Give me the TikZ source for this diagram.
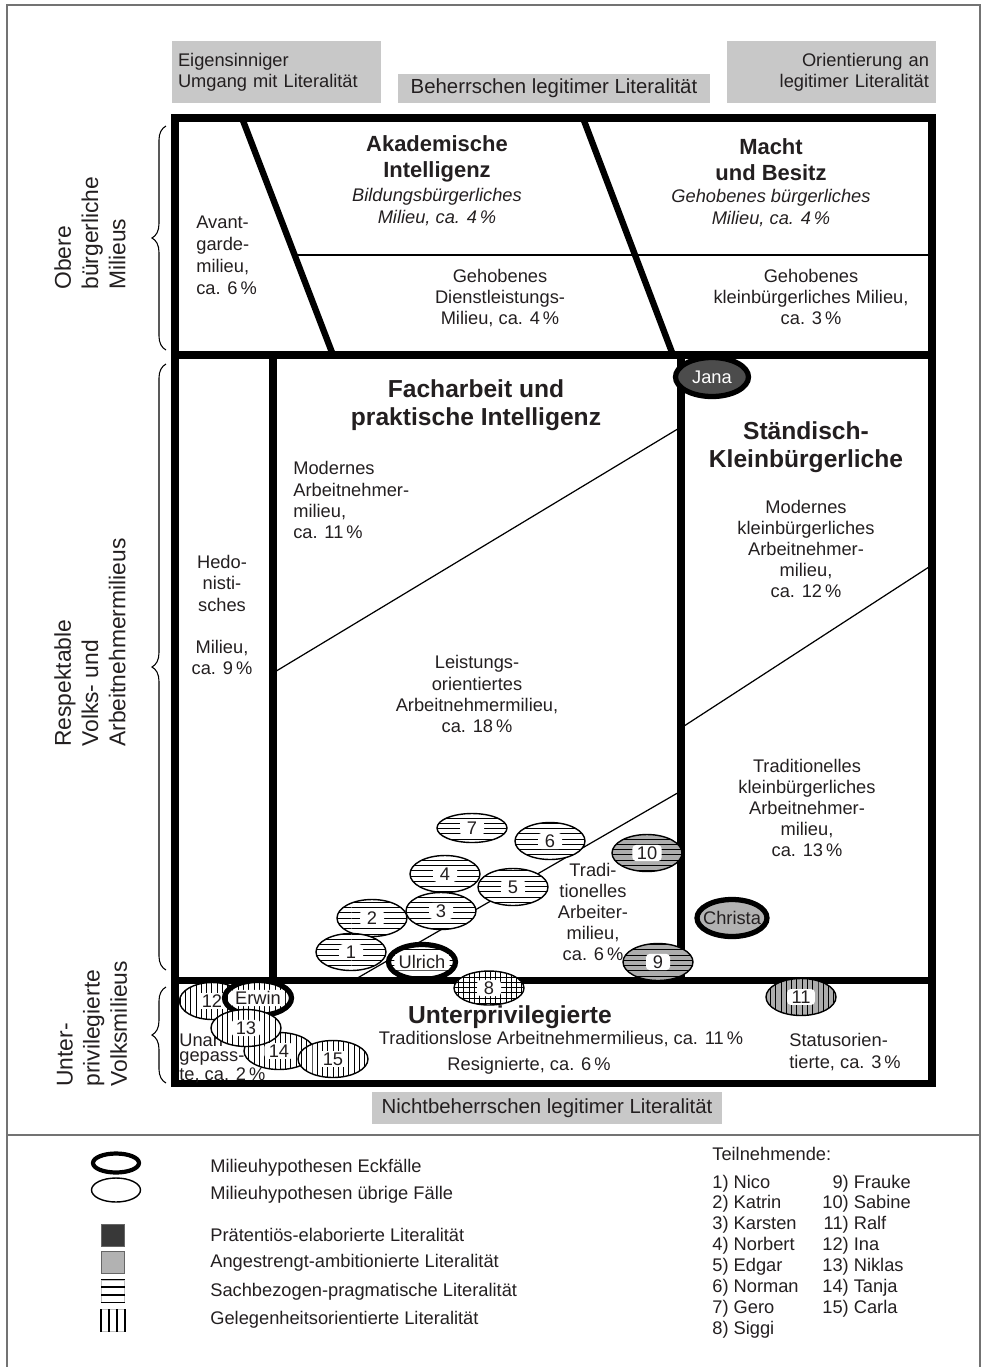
\documentclass[tikz,border=0pt]{standalone}
\usepackage{fontspec}
\setmainfont{Liberation Sans}
\usetikzlibrary{positioning, shapes.geometric, patterns, calc, decorations.pathreplacing}
\definecolor{ink}{RGB}{35,31,32}
\definecolor{boxgray}{RGB}{200,200,200}
\newcommand{\txtsize}{\fontsize{10.4}{12}\selectfont}
\tikzset{
  txt/.style={text=ink, inner sep=0pt, font=\txtsize},
  ital/.style={txt, align=center, font=\txtsize\itshape},
  bold12/.style={txt, align=center, font=\fontsize{12.5}{14.7}\selectfont\bfseries},
  bold14/.style={txt, align=center, font=\fontsize{14}{16}\selectfont\bfseries},
  side/.style={txt, rotate=90, align=left, anchor=west, font=\fontsize{13}{15.5}\selectfont},
  graybox/.style={fill=boxgray, text=ink, font=\txtsize, inner xsep=0.12cm, inner ysep=0pt},
  heavy/.style={line width=4pt},
  fine/.style={line width=0.7pt},
  framegray/.style={draw=black!55, line width=0.9pt},
  brace/.style={decorate, decoration={brace, amplitude=8pt}, line width=0.6pt},
  fall/.style={ellipse, draw=black, line width=0.8pt, minimum width=1.4cm, minimum height=0.74cm, inner sep=0pt},
  eckfall/.style={fall, line width=3pt, minimum width=1.34cm, minimum height=0.7cm},
  sach/.style={preaction={fill=white}, pattern=horizontal lines},
  sachgrau/.style={preaction={fill=black!32}, pattern=horizontal lines},
  gelegen/.style={preaction={fill=white}, pattern=vertical lines},
  gelegengrau/.style={preaction={fill=black!32}, pattern=vertical lines},
  beides/.style={preaction={fill=white}, pattern=grid},
  nr/.style={fill=white, rounded corners=2pt, inner xsep=2.5pt, inner ysep=0.9pt, minimum width=0.48cm, text=ink, font=\txtsize},
  lgbox/.style={draw=black!60, minimum width=0.46cm, minimum height=0.44cm, inner sep=0pt}
}

\begin{document}
\begin{tikzpicture}[x=0.02cm, y=-0.02cm]
\useasboundingbox (0,0) rectangle (981,1367);
\draw[framegray] (7,1367) -- (7,5) -- (980,5) -- (980,1367);
\draw[framegray] (7,1135) -- (980,1135);

% Literalitaet
\node[graybox, text width=3.94cm, minimum height=1.24cm, align=left] (eigen) at (276.5,72) {Eigensinniger\\Umgang mit Literalität};
\node[graybox, minimum width=6.24cm, minimum height=0.58cm, font=\fontsize{11.6}{13}\selectfont] (beherr) at (554,88.5) {Beherrschen legitimer Literalität};
\node[graybox, text width=3.9cm, inner xsep=0.14cm, minimum height=1.24cm, align=right] (orient) at (831.5,72) {Orientierung an\\legitimer Literalität};
\node[graybox, minimum width=7cm, minimum height=0.64cm, font=\fontsize{11.6}{13}\selectfont] (nicht) at (547,1108) {Nichtbeherrschen legitimer Literalität};

% Milieufelder
\draw[heavy] (175,118) rectangle (932,1083);
\draw[heavy] (175,355) -- (932,355);
\draw[heavy] (175,980) -- (932,980);
\draw[heavy] (273,355) -- (273,980);
\draw[heavy] (681,355) -- (681,980);
\draw[heavy, line width=3.6pt] (242,118) -- (333,355);
\draw[heavy, line width=3.6pt] (583,118) -- (673,355);
\draw[fine] (295,255) -- (932,255);
\draw[fine] (273,673) -- (681,427);
\draw[fine] (354,980) -- (681,791);
\draw[fine] (681,728) -- (932,565);

\node[bold12] (akad) at (437,159) {Akademische\\Intelligenz};
\node[ital] (bildung) at (437,207) {Bildungsbürgerliches\\Milieu, ca. 4\,\%};
\node[bold12] (macht) at (771,160) {Macht\\und Besitz};
\node[ital] (gehob) at (771,208) {Gehobenes bürgerliches\\Milieu, ca. 4\,\%};
\node[txt, align=left, anchor=west, font=\fontsize{10.4}{12.5}\selectfont] (avant) at (196,255) {Avant-\\garde-\\milieu,\\ca. 6\,\%};
\node[txt, align=center] (dienst) at (500,298) {Gehobenes\\Dienstleistungs-\\Milieu, ca. 4\,\%};
\node[txt, align=center] (kleinb) at (811,297) {Gehobenes\\kleinbürgerliches Milieu,\\ca. 3\,\%};

\node[bold14] (fach) at (476,405) {Facharbeit und\\praktische Intelligenz};
\node[txt, align=left, anchor=west] (modarb) at (293,500) {Modernes\\Arbeitnehmer-\\milieu,\\ca. 11\,\%};
\node[txt, align=center] (leist) at (477,694) {Leistungs-\\orientiertes\\Arbeitnehmermilieu,\\ca. 18\,\%};
\node[txt, align=center] (hedo) at (222,615) {Hedo-\\nisti-\\sches\\[12pt]Milieu,\\ca. 9\,\%};
\node[bold14] (staend) at (806,447) {Ständisch-\\Kleinbürgerliche};
\node[txt, align=center] (modklein) at (806,549) {Modernes\\kleinbürgerliches\\Arbeitnehmer-\\milieu,\\ca. 12\,\%};
\node[txt, align=center] (tradklein) at (807,808) {Traditionelles\\kleinbürgerliches\\Arbeitnehmer-\\milieu,\\ca. 13\,\%};
\node[txt, align=center] (tradarb) at (593,912) {Tradi-\\tionelles\\Arbeiter-\\milieu,\\ca. 6\,\%};

\node[bold14] (unter) at (510,1017) {Unterprivilegierte};
\node[txt] (trlos) at (561,1039) {Traditionslose Arbeitnehmermilieus, ca. 11\,\%};
\node[txt] (resig) at (529,1066) {Resignierte, ca. 6\,\%};
\node[txt, align=left, anchor=west] (status) at (789,1052) {Statusorien-\\tierte, ca. 3\,\%};
\node[txt, align=left, anchor=west, font=\fontsize{10.4}{8.8}\selectfont] (unang) at (179,1058) {Unan-\\gepass-\\te, ca. 2\,\%};

% Milieus links
\draw[brace] (166,350) -- (166,126);
\draw[brace] (166,970) -- (166,364);
\draw[brace] (166,1083) -- (166,987);
\node[side] (obere) at (90,290) {Obere\\bürgerliche\\Milieus};
\node[side] (respekt) at (90,747) {Respektable\\Volks- und\\Arbeitnehmermilieus};
\node[side] (unterpriv) at (92,1087) {Unter-\\privilegierte\\Volksmilieus};

% Teilnehmende
\node[fall, sach, minimum height=0.58cm, label={[nr]center:7}] (p7) at (472,828) {};
\node[fall, sach, label={[nr]center:6}] (p6) at (550,841) {};
\node[fall, sach, label={[nr]center:4}] (p4) at (445,874) {};
\node[fall, sach, label={[nr]center:2}] (p2) at (372,918) {};
\node[fall, sach, label={[nr]center:3}] (p3) at (441,911) {};
\node[fall, sach, label={[nr]center:5}] (p5) at (513,887) {};
\node[fall, sach, label={[nr]center:1}] (p1) at (351,952) {};
\node[eckfall, sach, label={[nr]center:Ulrich}] (ulrich) at (422,962) {};
\node[fall, beides, minimum height=0.68cm, label={[nr]center:8}] (p8) at (489,988) {};
\node[fall, sachgrau, label={[nr]center:9}] (p9) at (658,962) {};
\node[fall, sachgrau, label={[nr]center:10}] (p10) at (647,853) {};
\node[fall, gelegengrau, label={[nr]center:11}] (p11) at (801,997) {};
\node[fall, gelegen, minimum width=1.3cm, label={[nr]center:12}] (p12) at (212,1001) {};
\node[eckfall, gelegen, label={[nr]center:Erwin}] (erwin) at (258,998) {};
\node[fall, gelegen, label={[nr]center:14}] (p14) at (279,1051) {};
\node[fall, gelegen, label={[nr]center:13}] (p13) at (246,1028) {};
\node[fall, gelegen, label={[nr]center:15}] (p15) at (333,1059) {};
\node[eckfall, fill=black!70, minimum width=1.46cm, minimum height=0.78cm, label={[txt, text=white]center:Jana}] (jana) at (712,377) {};
\node[eckfall, fill=black!30, minimum width=1.4cm, minimum height=0.74cm, label={[txt]center:Christa}] (christa) at (732,918) {};

% Legende
\node[eckfall, minimum width=0.92cm, minimum height=0.38cm, line width=2.4pt] (lgeck) at (116,1163) {};
\node[fall, minimum width=0.98cm, minimum height=0.48cm] (lgrest) at (116,1190) {};
\node[txt, anchor=west] (lgecktxt) at (210,1168) {Milieuhypothesen Eckfälle};
\node[txt, anchor=west] (lgresttxt) at (210,1195) {Milieuhypothesen übrige Fälle};
\node[lgbox, fill=black!78] (lgpraet) at (113,1235) {};
\node[lgbox, fill=black!30] (lgangstr) at (113,1262.5) {};
\node[lgbox, draw=black!25] (lgsach) at (113,1291) {};
\node[lgbox, draw=black!25] (lggeleg) at (113,1320.5) {};
\foreach \f in {0,0.333,0.667,1}
  \draw[line width=0.9pt] ($(lgsach.north west)!\f!(lgsach.south west)$) -- ($(lgsach.north east)!\f!(lgsach.south east)$);
\foreach \f in {0,0.333,0.667,1}
  \draw[line width=0.9pt] ($(lggeleg.north west)!\f!(lggeleg.north east)$) -- ($(lggeleg.south west)!\f!(lggeleg.south east)$);
\node[txt, anchor=west] (lgpraettxt) at (210,1235) {Prätentiös-elaborierte Literalität};
\node[txt, anchor=west] (lgangstrtxt) at (210,1263) {Angestrengt-ambitionierte Literalität};
\node[txt, anchor=west] (lgsachtxt) at (210,1292) {Sachbezogen-pragmatische Literalität};
\node[txt, anchor=west] (lggelegtxt) at (210,1320) {Gelegenheitsorientierte Literalität};

\node[txt, anchor=base west] (tntitel) at (712,1160) {Teilnehmende:};
\node[txt, anchor=north west, font=\fontsize{10.4}{11.9}\selectfont] (tnlinks) at (712,1173)
  {\begin{tabular}{@{}l@{}}1) Nico\\2) Katrin\\3) Karsten\\4) Norbert\\5) Edgar\\6) Norman\\7) Gero\\8) Siggi\end{tabular}};
\node[txt, anchor=north west, font=\fontsize{10.4}{11.9}\selectfont] (tnrechts) at (822,1173)
  {\begin{tabular}{@{}r@{\ }l@{}}9)&Frauke\\10)&Sabine\\11)&Ralf\\12)&Ina\\13)&Niklas\\14)&Tanja\\15)&Carla\end{tabular}};
\end{tikzpicture}
\end{document}
